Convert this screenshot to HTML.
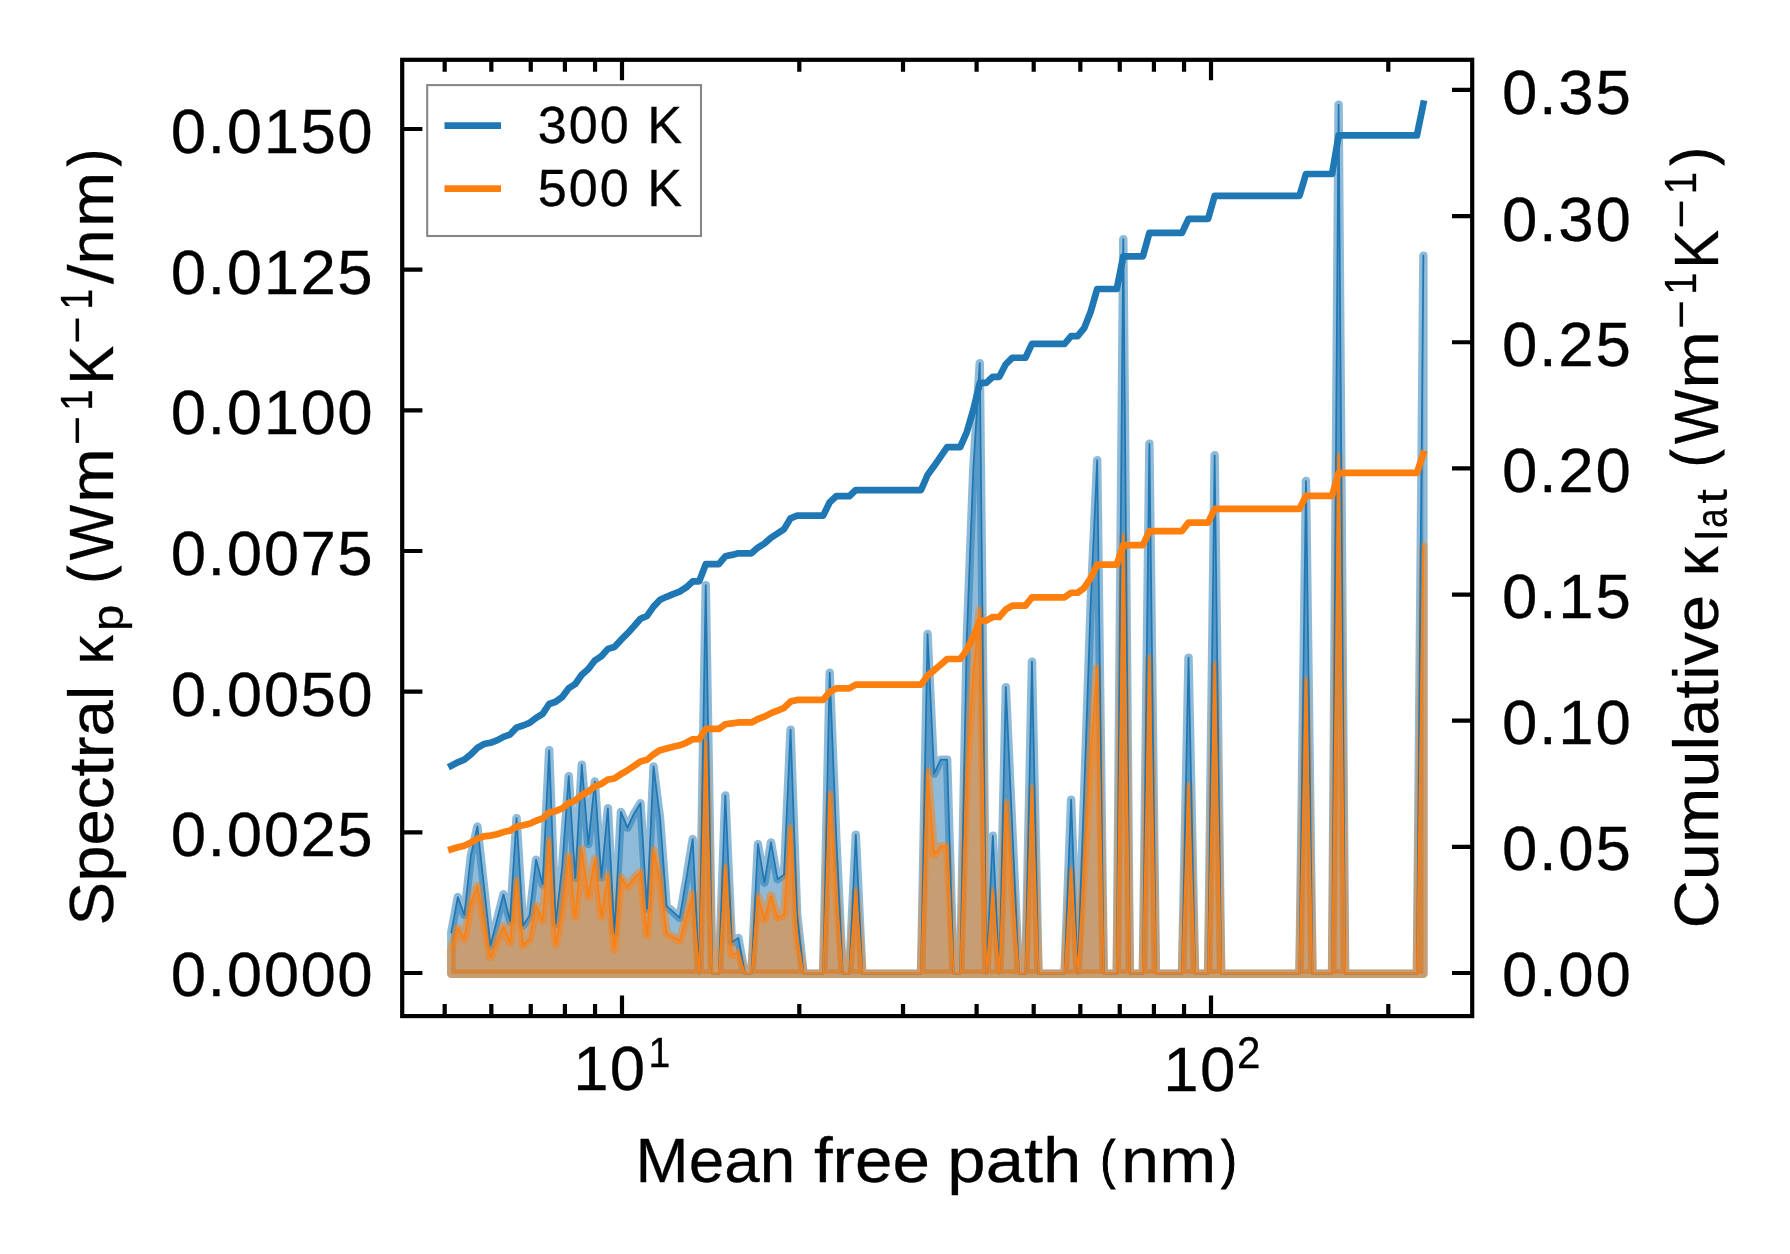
<!DOCTYPE html><html><head><meta charset="utf-8"><title>chart</title><style>html,body{margin:0;padding:0;background:#fff}svg{display:block}text{font-family:"Liberation Sans",sans-serif;fill:#000;stroke:#000;stroke-width:0.3px;vector-effect:non-scaling-stroke}text.p{stroke-width:1.1px}</style></head><body>
<svg width="1790" height="1254" viewBox="0 0 1790 1254">
<rect width="1790" height="1254" fill="#fff"/>
<path d="M451.30 973.70 L451.30 932.30 L457.82 897.10 L464.35 915.00 L470.87 855.70 L477.40 826.50 L483.92 885.70 L490.44 945.70 L496.97 920.00 L503.49 894.30 L510.02 921.10 L516.54 818.10 L523.07 925.60 L529.59 915.40 L536.11 859.70 L542.64 884.30 L549.16 750.30 L555.69 923.90 L562.21 866.70 L568.73 776.20 L575.26 878.10 L581.78 764.70 L588.31 844.10 L594.83 781.50 L601.36 877.60 L607.88 808.30 L614.40 932.90 L620.93 811.90 L627.45 827.70 L633.98 813.70 L640.50 803.20 L647.02 908.90 L653.55 766.40 L660.07 818.70 L666.60 906.10 L673.12 911.90 L679.65 917.80 L686.17 879.80 L692.69 839.10 L699.22 973.70 L705.74 585.20 L712.27 973.70 L718.79 973.70 L725.31 795.50 L731.84 942.40 L738.36 937.90 L744.89 973.70 L751.41 973.70 L757.94 844.10 L764.46 882.60 L770.98 842.40 L777.51 879.20 L784.03 874.80 L790.56 729.70 L797.08 913.70 L803.60 973.70 L810.13 973.70 L816.65 973.70 L823.18 973.70 L829.70 672.70 L836.23 836.70 L842.75 973.70 L849.27 973.70 L855.80 834.70 L862.32 973.70 L868.85 973.70 L875.37 973.70 L881.89 973.70 L888.42 973.70 L894.94 973.70 L901.47 973.70 L907.99 973.70 L914.52 973.70 L921.04 973.70 L927.56 634.00 L934.09 773.70 L940.61 759.70 L947.14 759.70 L953.66 973.70 L960.18 973.70 L966.71 640.70 L973.23 470.70 L979.76 363.20 L986.28 973.70 L992.81 835.70 L999.33 973.70 L1005.85 687.20 L1012.38 830.70 L1018.90 973.70 L1025.43 973.70 L1031.95 661.70 L1038.47 973.70 L1045.00 973.70 L1051.52 973.70 L1058.05 973.70 L1064.57 973.70 L1071.10 799.70 L1077.62 973.70 L1084.14 793.70 L1090.67 603.70 L1097.19 460.20 L1103.72 973.70 L1110.24 973.70 L1116.76 973.70 L1123.29 239.20 L1129.81 973.70 L1136.34 973.70 L1142.86 973.70 L1149.39 443.70 L1155.91 973.70 L1162.43 973.70 L1168.96 973.70 L1175.48 973.70 L1182.01 973.70 L1188.53 657.70 L1195.05 973.70 L1201.58 973.70 L1208.10 973.70 L1214.63 455.30 L1221.15 973.70 L1227.68 973.70 L1234.20 973.70 L1240.72 973.70 L1247.25 973.70 L1253.77 973.70 L1260.30 973.70 L1266.82 973.70 L1273.34 973.70 L1279.87 973.70 L1286.39 973.70 L1292.92 973.70 L1299.44 973.70 L1305.97 481.00 L1312.49 973.70 L1319.01 973.70 L1325.54 973.70 L1332.06 973.70 L1338.59 104.70 L1345.11 973.70 L1351.63 973.70 L1358.16 973.70 L1364.68 973.70 L1371.21 973.70 L1377.73 973.70 L1384.26 973.70 L1390.78 973.70 L1397.30 973.70 L1403.83 973.70 L1410.35 973.70 L1416.88 973.70 L1423.40 255.70 L1423.40 973.70 Z" fill="#1f77b4" fill-opacity="0.5" stroke="#1f77b4" stroke-opacity="0.5" stroke-width="8.45" stroke-linejoin="round"/>
<path d="M451.30 973.70 L451.30 949.05 L457.82 928.08 L464.35 938.74 L470.87 903.43 L477.40 886.04 L483.92 921.30 L490.44 957.03 L496.97 941.72 L503.49 926.42 L510.02 942.38 L516.54 881.04 L523.07 945.06 L529.59 938.98 L536.11 905.81 L542.64 920.46 L549.16 840.67 L555.69 944.04 L562.21 909.98 L568.73 856.09 L575.26 916.77 L581.78 849.24 L588.31 896.52 L594.83 859.24 L601.36 916.47 L607.88 875.20 L614.40 949.40 L620.93 877.35 L627.45 886.76 L633.98 878.42 L640.50 872.17 L647.02 935.11 L653.55 850.25 L660.07 881.40 L666.60 933.44 L673.12 936.90 L679.65 940.41 L686.17 917.78 L692.69 893.55 L699.22 973.70 L705.74 742.35 L712.27 973.70 L718.79 973.70 L725.31 867.58 L731.84 955.06 L738.36 952.38 L744.89 973.70 L751.41 973.70 L757.94 896.52 L764.46 919.45 L770.98 895.51 L777.51 917.43 L784.03 914.81 L790.56 828.40 L797.08 937.97 L803.60 973.70 L810.13 973.70 L816.65 973.70 L823.18 973.70 L829.70 794.45 L836.23 892.12 L842.75 973.70 L849.27 973.70 L855.80 890.93 L862.32 973.70 L868.85 973.70 L875.37 973.70 L881.89 973.70 L888.42 973.70 L894.94 973.70 L901.47 973.70 L907.99 973.70 L914.52 973.70 L921.04 973.70 L927.56 771.41 L934.09 854.60 L940.61 846.26 L947.14 846.26 L953.66 973.70 L960.18 973.70 L966.71 775.40 L973.23 674.16 L979.76 610.15 L986.28 973.70 L992.81 891.52 L999.33 973.70 L1005.85 803.09 L1012.38 888.54 L1018.90 973.70 L1025.43 973.70 L1031.95 787.90 L1038.47 973.70 L1045.00 973.70 L1051.52 973.70 L1058.05 973.70 L1064.57 973.70 L1071.10 870.08 L1077.62 973.70 L1084.14 866.51 L1090.67 753.37 L1097.19 667.91 L1103.72 973.70 L1110.24 973.70 L1116.76 973.70 L1123.29 536.31 L1129.81 973.70 L1136.34 973.70 L1142.86 973.70 L1149.39 658.09 L1155.91 973.70 L1162.43 973.70 L1168.96 973.70 L1175.48 973.70 L1182.01 973.70 L1188.53 785.52 L1195.05 973.70 L1201.58 973.70 L1208.10 973.70 L1214.63 664.99 L1221.15 973.70 L1227.68 973.70 L1234.20 973.70 L1240.72 973.70 L1247.25 973.70 L1253.77 973.70 L1260.30 973.70 L1266.82 973.70 L1273.34 973.70 L1279.87 973.70 L1286.39 973.70 L1292.92 973.70 L1299.44 973.70 L1305.97 680.30 L1312.49 973.70 L1319.01 973.70 L1325.54 973.70 L1332.06 973.70 L1338.59 456.21 L1345.11 973.70 L1351.63 973.70 L1358.16 973.70 L1364.68 973.70 L1371.21 973.70 L1377.73 973.70 L1384.26 973.70 L1390.78 973.70 L1397.30 973.70 L1403.83 973.70 L1410.35 973.70 L1416.88 973.70 L1423.40 546.13 L1423.40 973.70 Z" fill="#ff7f0e" fill-opacity="0.5" stroke="#ff7f0e" stroke-opacity="0.5" stroke-width="8.45" stroke-linejoin="round"/>
<polyline points="451.30,932.30 457.82,897.10 464.35,915.00 470.87,855.70 477.40,826.50 483.92,885.70 490.44,945.70 496.97,920.00 503.49,894.30 510.02,921.10 516.54,818.10 523.07,925.60 529.59,915.40 536.11,859.70 542.64,884.30 549.16,750.30 555.69,923.90 562.21,866.70 568.73,776.20 575.26,878.10 581.78,764.70 588.31,844.10 594.83,781.50 601.36,877.60 607.88,808.30 614.40,932.90 620.93,811.90 627.45,827.70 633.98,813.70 640.50,803.20 647.02,908.90 653.55,766.40 660.07,818.70 666.60,906.10 673.12,911.90 679.65,917.80 686.17,879.80 692.69,839.10 699.22,973.70 705.74,585.20 712.27,973.70 718.79,973.70 725.31,795.50 731.84,942.40 738.36,937.90 744.89,973.70 751.41,973.70 757.94,844.10 764.46,882.60 770.98,842.40 777.51,879.20 784.03,874.80 790.56,729.70 797.08,913.70 803.60,973.70 810.13,973.70 816.65,973.70 823.18,973.70 829.70,672.70 836.23,836.70 842.75,973.70 849.27,973.70 855.80,834.70 862.32,973.70 868.85,973.70 875.37,973.70 881.89,973.70 888.42,973.70 894.94,973.70 901.47,973.70 907.99,973.70 914.52,973.70 921.04,973.70 927.56,634.00 934.09,773.70 940.61,759.70 947.14,759.70 953.66,973.70 960.18,973.70 966.71,640.70 973.23,470.70 979.76,363.20 986.28,973.70 992.81,835.70 999.33,973.70 1005.85,687.20 1012.38,830.70 1018.90,973.70 1025.43,973.70 1031.95,661.70 1038.47,973.70 1045.00,973.70 1051.52,973.70 1058.05,973.70 1064.57,973.70 1071.10,799.70 1077.62,973.70 1084.14,793.70 1090.67,603.70 1097.19,460.20 1103.72,973.70 1110.24,973.70 1116.76,973.70 1123.29,239.20 1129.81,973.70 1136.34,973.70 1142.86,973.70 1149.39,443.70 1155.91,973.70 1162.43,973.70 1168.96,973.70 1175.48,973.70 1182.01,973.70 1188.53,657.70 1195.05,973.70 1201.58,973.70 1208.10,973.70 1214.63,455.30 1221.15,973.70 1227.68,973.70 1234.20,973.70 1240.72,973.70 1247.25,973.70 1253.77,973.70 1260.30,973.70 1266.82,973.70 1273.34,973.70 1279.87,973.70 1286.39,973.70 1292.92,973.70 1299.44,973.70 1305.97,481.00 1312.49,973.70 1319.01,973.70 1325.54,973.70 1332.06,973.70 1338.59,104.70 1345.11,973.70 1351.63,973.70 1358.16,973.70 1364.68,973.70 1371.21,973.70 1377.73,973.70 1384.26,973.70 1390.78,973.70 1397.30,973.70 1403.83,973.70 1410.35,973.70 1416.88,973.70 1423.40,255.70" fill="none" stroke="#1f77b4" stroke-width="1.75" stroke-linejoin="round" stroke-linecap="square"/>
<polyline points="451.30,949.05 457.82,928.08 464.35,938.74 470.87,903.43 477.40,886.04 483.92,921.30 490.44,957.03 496.97,941.72 503.49,926.42 510.02,942.38 516.54,881.04 523.07,945.06 529.59,938.98 536.11,905.81 542.64,920.46 549.16,840.67 555.69,944.04 562.21,909.98 568.73,856.09 575.26,916.77 581.78,849.24 588.31,896.52 594.83,859.24 601.36,916.47 607.88,875.20 614.40,949.40 620.93,877.35 627.45,886.76 633.98,878.42 640.50,872.17 647.02,935.11 653.55,850.25 660.07,881.40 666.60,933.44 673.12,936.90 679.65,940.41 686.17,917.78 692.69,893.55 699.22,973.70 705.74,742.35 712.27,973.70 718.79,973.70 725.31,867.58 731.84,955.06 738.36,952.38 744.89,973.70 751.41,973.70 757.94,896.52 764.46,919.45 770.98,895.51 777.51,917.43 784.03,914.81 790.56,828.40 797.08,937.97 803.60,973.70 810.13,973.70 816.65,973.70 823.18,973.70 829.70,794.45 836.23,892.12 842.75,973.70 849.27,973.70 855.80,890.93 862.32,973.70 868.85,973.70 875.37,973.70 881.89,973.70 888.42,973.70 894.94,973.70 901.47,973.70 907.99,973.70 914.52,973.70 921.04,973.70 927.56,771.41 934.09,854.60 940.61,846.26 947.14,846.26 953.66,973.70 960.18,973.70 966.71,775.40 973.23,674.16 979.76,610.15 986.28,973.70 992.81,891.52 999.33,973.70 1005.85,803.09 1012.38,888.54 1018.90,973.70 1025.43,973.70 1031.95,787.90 1038.47,973.70 1045.00,973.70 1051.52,973.70 1058.05,973.70 1064.57,973.70 1071.10,870.08 1077.62,973.70 1084.14,866.51 1090.67,753.37 1097.19,667.91 1103.72,973.70 1110.24,973.70 1116.76,973.70 1123.29,536.31 1129.81,973.70 1136.34,973.70 1142.86,973.70 1149.39,658.09 1155.91,973.70 1162.43,973.70 1168.96,973.70 1175.48,973.70 1182.01,973.70 1188.53,785.52 1195.05,973.70 1201.58,973.70 1208.10,973.70 1214.63,664.99 1221.15,973.70 1227.68,973.70 1234.20,973.70 1240.72,973.70 1247.25,973.70 1253.77,973.70 1260.30,973.70 1266.82,973.70 1273.34,973.70 1279.87,973.70 1286.39,973.70 1292.92,973.70 1299.44,973.70 1305.97,680.30 1312.49,973.70 1319.01,973.70 1325.54,973.70 1332.06,973.70 1338.59,456.21 1345.11,973.70 1351.63,973.70 1358.16,973.70 1364.68,973.70 1371.21,973.70 1377.73,973.70 1384.26,973.70 1390.78,973.70 1397.30,973.70 1403.83,973.70 1410.35,973.70 1416.88,973.70 1423.40,546.13" fill="none" stroke="#ff7f0e" stroke-width="1.75" stroke-linejoin="round" stroke-linecap="square"/>
<polyline points="451.30,765.70 457.82,762.30 464.35,759.70 470.87,754.46 477.40,747.93 483.92,744.03 490.44,742.78 496.97,740.40 503.49,736.88 510.02,734.55 516.54,727.64 523.07,725.51 529.59,722.92 536.11,717.86 542.64,713.90 549.16,703.99 555.69,701.78 562.21,697.03 568.73,688.27 575.26,684.02 581.78,674.75 588.31,669.00 594.83,660.47 601.36,656.21 607.88,648.87 614.40,647.06 620.93,639.88 627.45,633.41 633.98,626.31 640.50,618.74 647.02,615.87 653.55,606.67 660.07,599.79 666.60,596.79 673.12,594.05 679.65,591.57 686.17,587.41 692.69,581.43 699.22,581.43 705.74,564.20 712.27,564.20 718.79,564.20 725.31,556.29 731.84,554.90 738.36,553.31 744.89,553.31 751.41,553.31 757.94,547.56 764.46,543.52 770.98,537.70 777.51,533.50 784.03,529.12 790.56,518.29 797.08,515.63 803.60,515.63 810.13,515.63 816.65,515.63 823.18,515.63 829.70,502.27 836.23,496.20 842.75,496.20 849.27,496.20 855.80,490.03 862.32,490.03 868.85,490.03 875.37,490.03 881.89,490.03 888.42,490.03 894.94,490.03 901.47,490.03 907.99,490.03 914.52,490.03 921.04,490.03 927.56,474.96 934.09,466.08 940.61,456.59 947.14,447.09 953.66,447.09 960.18,447.09 966.71,432.32 973.23,410.00 979.76,382.92 986.28,382.92 992.81,376.80 999.33,376.80 1005.85,364.08 1012.38,357.74 1018.90,357.74 1025.43,357.74 1031.95,343.90 1038.47,343.90 1045.00,343.90 1051.52,343.90 1058.05,343.90 1064.57,343.90 1071.10,336.18 1077.62,336.18 1084.14,328.19 1090.67,311.78 1097.19,288.99 1103.72,288.99 1110.24,288.99 1116.76,288.99 1123.29,256.40 1129.81,256.40 1136.34,256.40 1142.86,256.40 1149.39,232.89 1155.91,232.89 1162.43,232.89 1168.96,232.89 1175.48,232.89 1182.01,232.89 1188.53,218.87 1195.05,218.87 1201.58,218.87 1208.10,218.87 1214.63,195.87 1221.15,195.87 1227.68,195.87 1234.20,195.87 1240.72,195.87 1247.25,195.87 1253.77,195.87 1260.30,195.87 1266.82,195.87 1273.34,195.87 1279.87,195.87 1286.39,195.87 1292.92,195.87 1299.44,195.87 1305.97,174.01 1312.49,174.01 1319.01,174.01 1325.54,174.01 1332.06,174.01 1338.59,135.46 1345.11,135.46 1351.63,135.46 1358.16,135.46 1364.68,135.46 1371.21,135.46 1377.73,135.46 1384.26,135.46 1390.78,135.46 1397.30,135.46 1403.83,135.46 1410.35,135.46 1416.88,135.46 1423.40,103.60" fill="none" stroke="#1f77b4" stroke-width="6.7" stroke-linejoin="round" stroke-linecap="square"/>
<polyline points="451.30,849.30 457.82,847.27 464.35,845.72 470.87,842.59 477.40,838.69 483.92,836.36 490.44,835.61 496.97,834.19 503.49,832.09 510.02,830.69 516.54,826.57 523.07,825.29 529.59,823.75 536.11,820.73 542.64,818.36 549.16,812.44 555.69,811.12 562.21,808.28 568.73,803.05 575.26,800.52 581.78,794.98 588.31,791.54 594.83,786.45 601.36,783.90 607.88,779.52 614.40,778.44 620.93,774.15 627.45,770.28 633.98,766.04 640.50,761.52 647.02,759.81 653.55,754.31 660.07,750.20 666.60,748.41 673.12,746.78 679.65,745.29 686.17,742.81 692.69,739.24 699.22,739.24 705.74,728.94 712.27,728.94 718.79,728.94 725.31,724.22 731.84,723.39 738.36,722.44 744.89,722.44 751.41,722.44 757.94,719.01 764.46,716.59 770.98,713.11 777.51,710.61 784.03,707.99 790.56,701.52 797.08,699.93 803.60,699.93 810.13,699.93 816.65,699.93 823.18,699.93 829.70,691.96 836.23,688.33 842.75,688.33 849.27,688.33 855.80,684.64 862.32,684.64 868.85,684.64 875.37,684.64 881.89,684.64 888.42,684.64 894.94,684.64 901.47,684.64 907.99,684.64 914.52,684.64 921.04,684.64 927.56,675.64 934.09,670.34 940.61,664.67 947.14,659.00 953.66,659.00 960.18,659.00 966.71,650.17 973.23,636.84 979.76,620.66 986.28,620.66 992.81,617.01 999.33,617.01 1005.85,609.42 1012.38,605.63 1018.90,605.63 1025.43,605.63 1031.95,597.36 1038.47,597.36 1045.00,597.36 1051.52,597.36 1058.05,597.36 1064.57,597.36 1071.10,592.75 1077.62,592.75 1084.14,587.98 1090.67,578.17 1097.19,564.56 1103.72,564.56 1110.24,564.56 1116.76,564.56 1123.29,545.10 1129.81,545.10 1136.34,545.10 1142.86,545.10 1149.39,531.05 1155.91,531.05 1162.43,531.05 1168.96,531.05 1175.48,531.05 1182.01,531.05 1188.53,522.68 1195.05,522.68 1201.58,522.68 1208.10,522.68 1214.63,508.94 1221.15,508.94 1227.68,508.94 1234.20,508.94 1240.72,508.94 1247.25,508.94 1253.77,508.94 1260.30,508.94 1266.82,508.94 1273.34,508.94 1279.87,508.94 1286.39,508.94 1292.92,508.94 1299.44,508.94 1305.97,495.88 1312.49,495.88 1319.01,495.88 1325.54,495.88 1332.06,495.88 1338.59,472.86 1345.11,472.86 1351.63,472.86 1358.16,472.86 1364.68,472.86 1371.21,472.86 1377.73,472.86 1384.26,472.86 1390.78,472.86 1397.30,472.86 1403.83,472.86 1410.35,472.86 1416.88,472.86 1423.40,453.83" fill="none" stroke="#ff7f0e" stroke-width="6.7" stroke-linejoin="round" stroke-linecap="square"/>
<path d="M444.69 1016.1 v-12 M444.69 59.8 v12 M491.33 1016.1 v-12 M491.33 59.8 v12 M530.76 1016.1 v-12 M530.76 59.8 v12 M564.92 1016.1 v-12 M564.92 59.8 v12 M595.05 1016.1 v-12 M595.05 59.8 v12 M799.31 1016.1 v-12 M799.31 59.8 v12 M903.02 1016.1 v-12 M903.02 59.8 v12 M976.61 1016.1 v-12 M976.61 59.8 v12 M1033.69 1016.1 v-12 M1033.69 59.8 v12 M1080.33 1016.1 v-12 M1080.33 59.8 v12 M1119.76 1016.1 v-12 M1119.76 59.8 v12 M1153.92 1016.1 v-12 M1153.92 59.8 v12 M1184.05 1016.1 v-12 M1184.05 59.8 v12 M1388.31 1016.1 v-12 M1388.31 59.8 v12 M622.00 1016.1 v-20.5 M622.00 59.8 v20.5 M1211.00 1016.1 v-20.5 M1211.00 59.8 v20.5 M402.2 973.00 h20.2 M402.2 832.33 h20.2 M402.2 691.66 h20.2 M402.2 550.99 h20.2 M402.2 410.32 h20.2 M402.2 269.65 h20.2 M402.2 128.98 h20.2 M1472.2 973.00 h-20.2 M1472.2 846.85 h-20.2 M1472.2 720.70 h-20.2 M1472.2 594.55 h-20.2 M1472.2 468.40 h-20.2 M1472.2 342.25 h-20.2 M1472.2 216.10 h-20.2 M1472.2 89.95 h-20.2" stroke="#000" stroke-width="4.2" fill="none"/>
<rect x="402.2" y="59.8" width="1070.0" height="956.3000000000001" fill="none" stroke="#000" stroke-width="4.2" stroke-linejoin="miter"/>
<rect x="427.2" y="85.1" width="273.8" height="150.9" fill="#fff" fill-opacity="0.8" stroke="#878787" stroke-width="2.1"/>
<path d="M444.5 125.6 H501" stroke="#1f77b4" stroke-width="6.9"/>
<path d="M444.5 188.6 H501" stroke="#ff7f0e" stroke-width="6.9"/>
<g opacity="0.999">
<text font-size="200" letter-spacing="7.700" transform="matrix(0.26087,0,0,0.26087,537.71,143.00)">300 K</text>
<text font-size="200" letter-spacing="7.700" transform="matrix(0.26087,0,0,0.26087,537.71,205.90)">500 K</text>
<text font-size="200" letter-spacing="4.654" transform="matrix(0.31812,0,0,0.31812,170.76,995.90)">0.0000</text>
<text font-size="200" letter-spacing="4.654" transform="matrix(0.31812,0,0,0.31812,170.76,856.23)">0.0025</text>
<text font-size="200" letter-spacing="4.654" transform="matrix(0.31812,0,0,0.31812,170.76,715.76)">0.0050</text>
<text font-size="200" letter-spacing="4.654" transform="matrix(0.31812,0,0,0.31812,170.76,575.09)">0.0075</text>
<text font-size="200" letter-spacing="4.654" transform="matrix(0.31812,0,0,0.31812,170.76,434.42)">0.0100</text>
<text font-size="200" letter-spacing="4.654" transform="matrix(0.31812,0,0,0.31812,170.76,293.95)">0.0125</text>
<text font-size="200" letter-spacing="4.654" transform="matrix(0.31812,0,0,0.31812,170.76,152.88)">0.0150</text>
<text font-size="200" letter-spacing="5.284" transform="matrix(0.31812,0,0,0.31812,1501.96,996.20)">0.00</text>
<text font-size="200" letter-spacing="5.284" transform="matrix(0.31812,0,0,0.31812,1501.96,869.95)">0.05</text>
<text font-size="200" letter-spacing="5.284" transform="matrix(0.31812,0,0,0.31812,1501.96,744.20)">0.10</text>
<text font-size="200" letter-spacing="5.284" transform="matrix(0.31812,0,0,0.31812,1501.96,618.25)">0.15</text>
<text font-size="200" letter-spacing="5.284" transform="matrix(0.31812,0,0,0.31812,1501.96,492.30)">0.20</text>
<text font-size="200" letter-spacing="5.284" transform="matrix(0.31812,0,0,0.31812,1501.96,366.35)">0.25</text>
<text font-size="200" letter-spacing="5.284" transform="matrix(0.31812,0,0,0.31812,1501.96,240.50)">0.30</text>
<text font-size="200" letter-spacing="5.284" transform="matrix(0.31812,0,0,0.31812,1501.96,114.30)">0.35</text>
<text font-size="200" letter-spacing="3.442" transform="matrix(0.31812,0,0,0.31812,573.23,1089.60)">10</text>
<text font-size="200" transform="matrix(0.19655,0,0,0.21449,648.55,1067.30)">1</text>
<text font-size="200" letter-spacing="4.699" transform="matrix(0.31812,0,0,0.31812,1163.13,1090.70)">10</text>
<text font-size="200" transform="matrix(0.21099,0,0,0.21739,1236.89,1067.90)">2</text>
<text font-size="200" transform="matrix(0.31890,0,0,0.31304,635.60,1182.00)">Mean</text>
<text font-size="200" transform="matrix(0.33705,0,0,0.31304,813.89,1182.00)">free</text>
<text font-size="200" transform="matrix(0.34463,0,0,0.31304,947.32,1182.00)">path</text>
<text class="p" font-size="200" transform="matrix(0.22075,0,0,0.27219,1100.55,1177.67)">(</text>
<text font-size="200" transform="matrix(0.34263,0,0,0.31304,1121.05,1182.00)">nm</text>
<text class="p" font-size="200" transform="matrix(0.23269,0,0,0.27219,1221.13,1177.67)">)</text>
<text font-size="200" transform="translate(113.30,922.50) rotate(-90) matrix(0.32672,0,0,0.31304,-2.94,0)">Spectral</text>
<text font-size="200" transform="translate(113.30,660.80) rotate(-90) matrix(0.29310,0,0,0.31304,-3.81,0)">κ</text>
<text font-size="200" transform="translate(122.80,628.00) rotate(-90) matrix(0.23556,0,0,0.22101,-3.06,0)">p</text>
<text class="p" font-size="200" transform="translate(108.94,580.00) rotate(-90) matrix(0.25283,0,0,0.28235,-3.03,0)">(</text>
<text font-size="200" transform="translate(113.30,559.90) rotate(-90) matrix(0.29305,0,0,0.31304,-0.29,0)">W</text>
<text font-size="200" transform="translate(113.30,498.40) rotate(-90) matrix(0.32714,0,0,0.31304,-4.25,0)">m</text>
<text font-size="200" transform="translate(91.80,442.60) rotate(-90) matrix(0.25361,0,0,0.22101,-2.54,0)">−</text>
<text font-size="200" transform="translate(91.80,407.90) rotate(-90) matrix(0.19195,0,0,0.22101,-2.88,0)">1</text>
<text font-size="200" transform="translate(113.30,379.90) rotate(-90) matrix(0.29043,0,0,0.31304,-4.65,0)">K</text>
<text font-size="200" transform="translate(91.80,341.10) rotate(-90) matrix(0.23299,0,0,0.22101,-2.33,0)">−</text>
<text font-size="200" transform="translate(91.80,306.60) rotate(-90) matrix(0.18506,0,0,0.22101,-2.78,0)">1</text>
<text font-size="200" transform="translate(113.30,284.00) rotate(-90) matrix(0.35273,0,0,0.31304,0.00,0)">/</text>
<text font-size="200" transform="translate(113.30,260.30) rotate(-90) matrix(0.31647,0,0,0.31304,-4.11,0)">n</text>
<text font-size="200" transform="translate(113.30,222.60) rotate(-90) matrix(0.33071,0,0,0.31304,-4.30,0)">m</text>
<text class="p" font-size="200" transform="translate(108.94,165.50) rotate(-90) matrix(0.24808,0,0,0.28235,-0.50,0)">)</text>
<text font-size="200" transform="translate(1717.50,925.10) rotate(-90) matrix(0.33354,0,0,0.31304,-3.34,0)">Cumulative</text>
<text font-size="200" transform="translate(1717.50,572.20) rotate(-90) matrix(0.29540,0,0,0.31304,-3.84,0)">κ</text>
<text font-size="200" transform="translate(1727.20,537.50) rotate(-90) matrix(0.24444,0,0,0.22101,-3.18,0)">l</text>
<text font-size="200" transform="translate(1727.20,526.40) rotate(-90) matrix(0.17379,0,0,0.22101,-1.39,0)">a</text>
<text font-size="200" transform="translate(1727.20,502.90) rotate(-90) matrix(0.26275,0,0,0.22101,-0.79,0)">t</text>
<text class="p" font-size="200" transform="translate(1712.45,463.80) rotate(-90) matrix(0.25283,0,0,0.28449,-3.03,0)">(</text>
<text font-size="200" transform="translate(1717.50,443.70) rotate(-90) matrix(0.28663,0,0,0.31304,-0.29,0)">W</text>
<text font-size="200" transform="translate(1717.50,384.30) rotate(-90) matrix(0.34643,0,0,0.31304,-4.50,0)">m</text>
<text font-size="200" transform="translate(1696.00,326.50) rotate(-90) matrix(0.24948,0,0,0.22101,-2.49,0)">−</text>
<text font-size="200" transform="translate(1696.00,291.80) rotate(-90) matrix(0.19885,0,0,0.22101,-2.98,0)">1</text>
<text font-size="200" transform="translate(1717.50,264.10) rotate(-90) matrix(0.29130,0,0,0.31304,-4.66,0)">K</text>
<text font-size="200" transform="translate(1696.00,226.00) rotate(-90) matrix(0.25052,0,0,0.22101,-2.51,0)">−</text>
<text font-size="200" transform="translate(1696.00,191.30) rotate(-90) matrix(0.20000,0,0,0.22101,-3.00,0)">1</text>
<text class="p" font-size="200" transform="translate(1712.45,164.70) rotate(-90) matrix(0.26731,0,0,0.28449,-0.53,0)">)</text>
</g>
</svg></body></html>
